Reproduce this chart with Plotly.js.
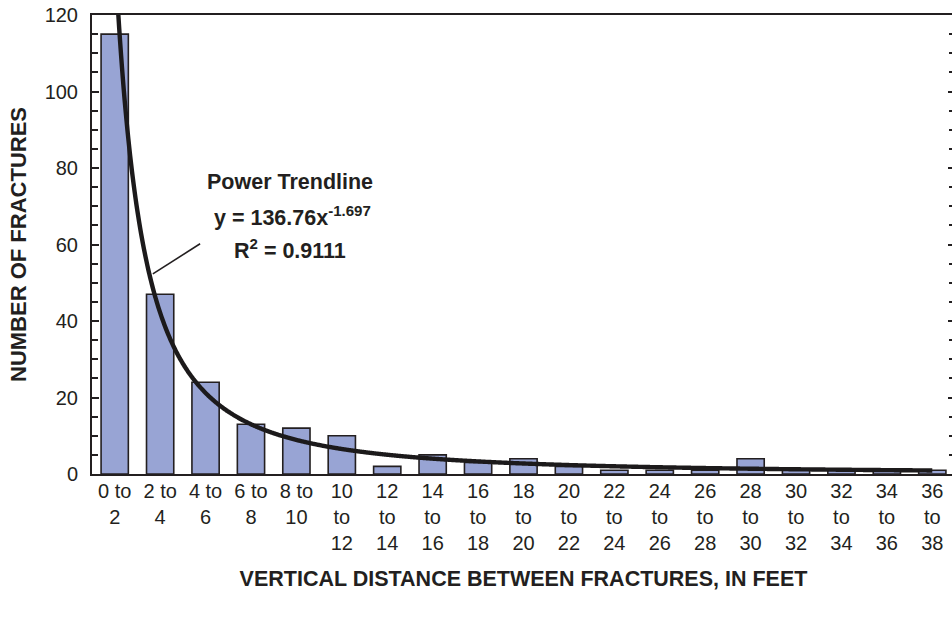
<!DOCTYPE html>
<html>
<head>
<meta charset="utf-8">
<script src="https://cdn.plot.ly/plotly-3.0.1.min.js"></script>
<style>
  html, body { margin: 0; padding: 0; background: #fff; overflow: hidden; }
  #chart { width: 956px; height: 618px; }
</style>
</head>
<body>
<div id="chart"></div>
<script>
// Fracture spacing histogram (2-ft bins) with fitted power trendline
const binLabels = [
  "0 to<br>2", "2 to<br>4", "4 to<br>6", "6 to<br>8", "8 to<br>10",
  "10<br>to<br>12", "12<br>to<br>14", "14<br>to<br>16", "16<br>to<br>18",
  "18<br>to<br>20", "20<br>to<br>22", "22<br>to<br>24", "24<br>to<br>26",
  "26<br>to<br>28", "28<br>to<br>30", "30<br>to<br>32", "32<br>to<br>34",
  "34<br>to<br>36", "36<br>to<br>38"
];
const binIndex = [1, 2, 3, 4, 5, 6, 7, 8, 9, 10, 11, 12, 13, 14, 15, 16, 17, 18, 19];
const fractureCounts = [115, 47, 24, 13, 12, 10, 2, 5, 3, 4, 2, 1, 1, 1, 4, 1, 1, 1, 1];

// Power trendline coefficients: y = a * x^b
const trendA = 136.76;
const trendB = -1.697;
const trendR2 = 0.9111;

const yTicks = [0, 20, 40, 60, 80, 100, 120];

// Sample the fitted curve along the bin index
const trendX = [];
const trendY = [];
for (let x = 1; x <= 19.0001; x += 0.02) {
  trendX.push(x);
  trendY.push(trendA * Math.pow(x, trendB));
}

const ink = "#231f20";
const fontFamily = "'Liberation Sans', Arial, Helvetica, sans-serif";

const bars = {
  type: "bar",
  x: binIndex,
  y: fractureCounts,
  width: 0.6,
  marker: { color: "#98a4d4", line: { color: ink, width: 1.6 } },
  hoverinfo: "x+y",
  showlegend: false
};

const trend = {
  type: "scatter",
  mode: "lines",
  x: trendX,
  y: trendY,
  line: { color: "#1c1a1b", width: 4.4, shape: "spline" },
  hoverinfo: "skip",
  showlegend: false
};

// Invisible companion trace so the right-hand tick axis is drawn
const rightTicks = {
  type: "scatter",
  mode: "markers",
  x: [binIndex[0]],
  y: [0],
  yaxis: "y2",
  marker: { opacity: 0 },
  hoverinfo: "skip",
  showlegend: false
};

const layout = {
  width: 956,
  height: 618,
  margin: { l: 92, r: 1, t: 15, b: 144 },
  paper_bgcolor: "#ffffff",
  plot_bgcolor: "#ffffff",
  font: { family: fontFamily, color: ink, size: 20 },
  showlegend: false,
  xaxis: {
    type: "linear",
    range: [0.5, 19.5],
    tickmode: "array",
    tickvals: binIndex,
    ticktext: binLabels,
    ticks: "",
    showgrid: false,
    zeroline: false,
    showline: true,
    linecolor: ink,
    linewidth: 2.4,
    mirror: true,
    tickfont: { size: 20, color: ink },
    ticklabelstandoff: -2,
    title: {
      text: "<b>VERTICAL DISTANCE BETWEEN FRACTURES, IN FEET</b>",
      font: { size: 21.5, color: ink },
      standoff: 18
    },
    fixedrange: true
  },
  yaxis: {
    range: [0, 120],
    tickmode: "array",
    tickvals: yTicks,
    ticks: "inside",
    ticklen: 7,
    tickwidth: 2,
    tickcolor: ink,
    minor: { dtick: 5, ticks: "inside", ticklen: 6, tickwidth: 1.8, tickcolor: ink, showgrid: false },
    showgrid: false,
    zeroline: false,
    showline: true,
    linecolor: ink,
    linewidth: 2,
    mirror: false,
    tickfont: { size: 20, color: ink },
    ticklabelstandoff: 8,
    title: {
      text: "<b>NUMBER OF FRACTURES</b>",
      font: { size: 22, color: ink },
      standoff: 12
    },
    fixedrange: true
  },
  yaxis2: {
    overlaying: "y",
    side: "right",
    range: [0, 120],
    tickmode: "array",
    tickvals: yTicks,
    showticklabels: false,
    ticks: "inside",
    ticklen: 7,
    tickwidth: 2,
    tickcolor: ink,
    minor: { dtick: 5, ticks: "inside", ticklen: 6, tickwidth: 1.8, tickcolor: ink, showgrid: false },
    showgrid: false,
    zeroline: false,
    showline: false,
    fixedrange: true
  },
  shapes: [
    {
      type: "line", xref: "x", yref: "y",
      x0: 1.84, y0: 52.3, x1: 2.88, y1: 60.2,
      line: { color: ink, width: 1.6 }
    }
  ],
  annotations: [
    {
      xref: "x", yref: "y", x: 4.86, y: 76.4,
      text: "<b>Power Trendline</b>",
      showarrow: false, font: { size: 21.5, color: ink }
    },
    {
      xref: "x", yref: "y", x: 4.92, y: 67.4,
      text: "<b>y = " + trendA.toFixed(2) + "x<sup>" + trendB.toFixed(3) + "</sup></b>",
      showarrow: false, font: { size: 21.5, color: ink }
    },
    {
      xref: "x", yref: "y", x: 4.86, y: 58.8,
      text: "<b>R<sup>2</sup> = " + trendR2.toFixed(4) + "</b>",
      showarrow: false, font: { size: 21.5, color: ink }
    }
  ]
};

Plotly.newPlot("chart", [bars, trend, rightTicks], layout, { displayModeBar: false, staticPlot: true });
</script>
</body>
</html>
